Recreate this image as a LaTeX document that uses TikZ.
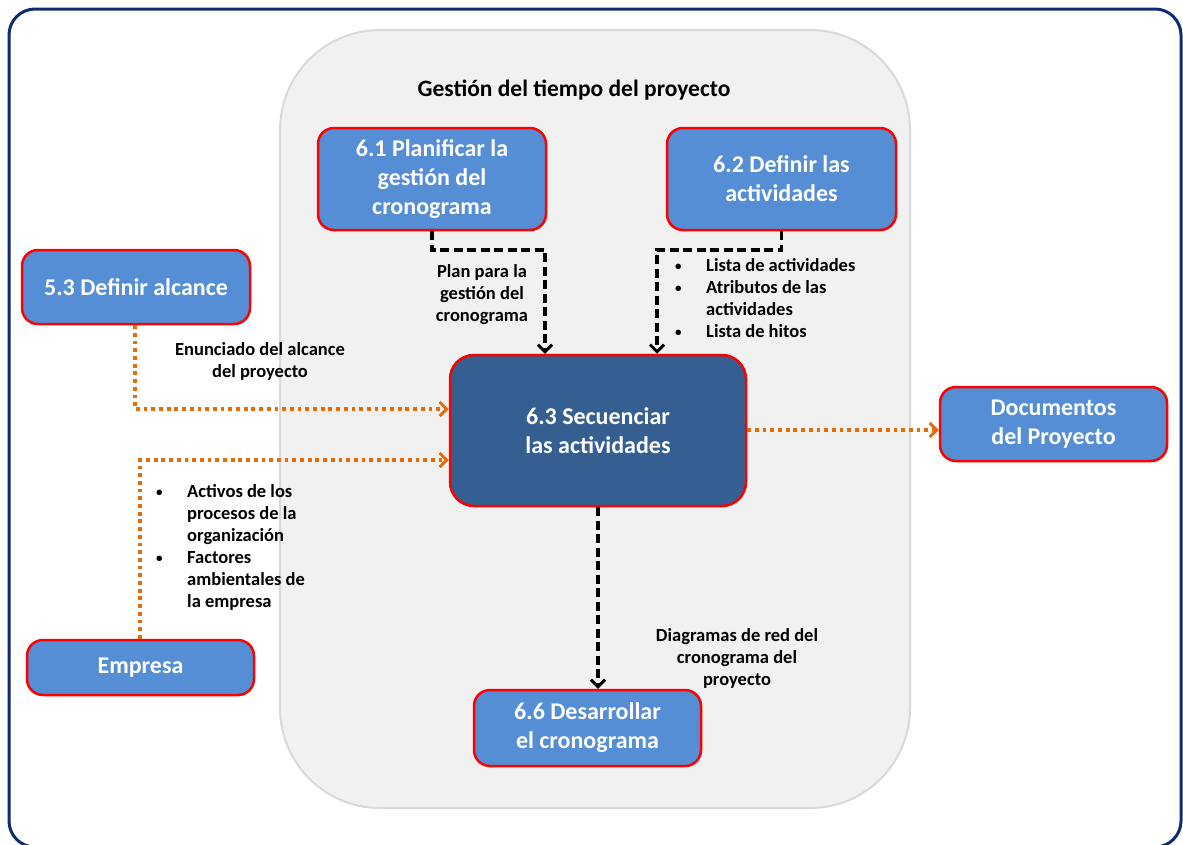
\documentclass[tikz,border=0pt]{standalone}
\usepackage{fontspec}
\setmainfont{Carlito}
\usetikzlibrary{arrows.meta}
\definecolor{navy}{HTML}{0F2C6E}
\definecolor{panelfill}{HTML}{F1F1F1}
\definecolor{panelline}{HTML}{D9D9D9}
\definecolor{procblue}{HTML}{558ED5}
\definecolor{procdark}{HTML}{365F91}
\definecolor{linkorange}{HTML}{E46C0A}
\newcommand{\blt}{\makebox[31pt][l]{\fontsize{13}{13}\selectfont\raisebox{1pt}{•}}}
\newcommand{\nob}{\makebox[31pt][l]{}}
\tikzset{
  proc/.style={draw=red, line width=2.5pt, fill=procblue, rounded corners=16pt,
    text=white, font=\bfseries\fontsize{24}{29}\selectfont, align=center,
    inner sep=0pt},
  lbl/.style={font=\bfseries\fontsize{18.5}{22}\selectfont, text=black, inner sep=0pt},
  flowblack/.style={draw=black, line width=3.5pt, dash pattern=on 9pt off 4.5pt,
    -{Straight Barb[length=7pt,width=14pt,line width=3pt]}},
  floworange/.style={draw=linkorange, line width=3.8pt,
    dash pattern=on 3.8pt off 3.9pt,
    -{Straight Barb[length=7pt,width=14pt,line width=3pt]}},
}
\begin{document}
\begin{tikzpicture}[x=1pt,y=-1pt]
\useasboundingbox (0,0) rectangle (1183,844);
% outer frame
\draw[navy, line width=3pt, rounded corners=26pt] (9,9) rectangle (1181,847);
% process group panel
\draw[panelline, fill=panelfill, line width=2pt, rounded corners=100pt] (280,30) rectangle (910,808);
\node[font=\bfseries\fontsize{23.5}{27}\selectfont] (title) at (574,90) {Gestión del tiempo del proyecto};

% process boxes
\node[proc, minimum width=228pt, minimum height=102pt] (b61) at (432,179)
  {6.1 Planificar la\\gestión del\\cronograma};
\node[proc, minimum width=229pt, minimum height=102pt] (b62) at (781.5,179)
  {6.2 Definir las\\actividades};
\node[proc, minimum width=228pt, minimum height=74pt] (b53) at (136,287)
  {5.3 Definir alcance};
\node[proc, fill=procdark, rounded corners=24pt, minimum width=296pt, minimum height=151pt] (b63) at (598,430.5)
  {6.3 Secuenciar\\las actividades};
\node[proc, minimum width=227pt, minimum height=74pt] (bdoc) at (1053.5,424)
  {Documentos\\del Proyecto};
\node[proc, minimum width=227pt, minimum height=55pt] (bemp) at (140.5,667.5)
  {Empresa};
\node[proc, minimum width=227pt, minimum height=76pt] (b66) at (587.5,728)
  {6.6 Desarrollar\\el cronograma};

% corner points of the routed connectors
\coordinate (k1) at (545,250);
\coordinate (k2) at (657,250);
\coordinate (k3) at (135,409);
\coordinate (k4) at (140,460);

% connectors
\draw[flowblack] (b61.south) |- (k1) -- (k1 |- b63.north);
\draw[flowblack] (b62.south) |- (k2) -- (k2 |- b63.north);
\draw[floworange] (b53.south -| k3) -- (k3) -- (k3 -| b63.west);
\draw[floworange] (bemp.north -| k4) -- (k4) -- (k4 -| b63.west);
\draw[floworange] (b63.east |- 0,430) -- (bdoc.west |- 0,430);
\draw[flowblack] (b63.south) -- (b63.south |- b66.north);

% connector labels
\node[lbl, align=center] (lplan) at (482,295) {Plan para la\\gestión del\\cronograma};
\node[lbl, align=center] (lenun) at (260,361) {Enunciado del alcance\\del proyecto};
\node[lbl, align=center] (ldiag) at (737,658) {Diagramas de red del\\cronograma del\\proyecto};
\node[lbl, align=left, anchor=north west] (lact) at (675,258)
  {\blt Lista de actividades\\
   \blt Atributos de las\\
   \nob actividades\\
   \blt Lista de hitos};
\node[lbl, align=left, anchor=north west] (lorg) at (156,484)
  {\blt Activos de los\\
   \nob procesos de la\\
   \nob organización\\
   \blt Factores\\
   \nob ambientales de\\
   \nob la empresa};
\end{tikzpicture}
\end{document}
